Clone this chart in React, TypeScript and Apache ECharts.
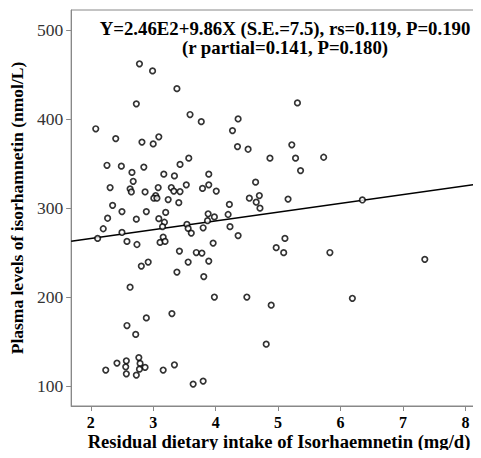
import React, { useEffect, useRef } from "react";
import * as echarts from "echarts";

const xVals = [2.78,2.99,3.38,2.73,3.59,3.77,2.08,2.40,2.82,3.00,3.09,3.57,2.26,2.49,2.85,3.43,2.66,3.17,3.34,3.89,5.31,4.36,4.27,4.35,4.52,5.22,4.87,5.28,5.73,5.36,2.68,2.31,2.63,2.65,2.87,3.08,3.04,3.01,3.06,3.29,3.33,3.43,3.53,3.79,3.89,4.01,3.24,3.41,2.35,2.50,2.89,3.20,2.27,2.73,3.09,3.18,3.15,3.88,3.98,3.87,3.54,3.56,3.61,3.80,2.20,2.50,2.11,2.58,2.74,3.11,3.16,3.19,3.96,3.42,3.69,3.78,2.92,2.81,3.56,3.89,3.38,3.81,2.63,3.98,4.64,4.54,4.70,4.65,4.71,5.16,4.22,4.20,4.23,4.36,5.11,4.97,5.09,5.83,4.50,6.19,6.35,7.35,2.89,3.30,2.58,2.72,2.77,2.42,2.57,2.79,2.56,2.87,2.78,2.24,3.16,3.34,2.57,2.73,3.64,3.80,4.89,4.81];
const yVals = [462,454,434,417,405,397,389,378,374,372,380,356,348,347,346,349,340,338,336,338,418,400,387,369,366,371,356,356,357,342,330,323,321.5,318,318,323,314,311,311,323,319,318.5,326,322,326,319,309.5,306,303,296,296,295,288.5,287.5,288,284,279,293.5,290,285.7,281.5,277,271.8,277.8,276.7,272.5,265.8,262.5,259,261.3,267.3,262.5,260.6,251.6,250,249.4,239.3,234.8,239.3,240.4,228,223,211,200,329,311,314,306.5,299.8,310,304,292.7,279,269,265.8,255.4,249.8,250,200,198.6,309,242.3,176.5,181.4,168,158,132,125.8,128.4,125.4,121.6,121,119,118,118,123.9,113.8,112.3,102.2,105.6,190.8,147];

const xTicks = [2, 3, 4, 5, 6, 7, 8];
const yTicks = [100, 200, 300, 400, 500];

const intercept = 246;
const slope = 9.86;

const titleLine1 = "Y=2.46E2+9.86X (S.E.=7.5), rs=0.119, P=0.190";
const titleLine2 = "(r partial=0.141, P=0.180)";
const xName = "Residual dietary intake of Isorhaemnetin (mg/d)";
const yName = "Plasma levels of isorhamnetin (nmol/L)";

const X_MIN = 1.686;
const X_MAX = 8.25;
const Y_MIN = 77.6;
const Y_MAX = 522.4;

const FONT = "'Liberation Serif', 'Times New Roman', serif";

export default function App() {
  const ref = useRef<HTMLDivElement>(null);
  useEffect(() => {
    if (!ref.current) return;
    const chart = echarts.init(ref.current, null, { renderer: "svg" });
    const points = xVals.map((x, i) => [x, yVals[i]]);
    const fit = [
      [X_MIN, intercept + slope * X_MIN],
      [X_MAX, intercept + slope * X_MAX],
    ];
    chart.setOption({
      animation: false,
      backgroundColor: "#fff",
      grid: {
        left: 71,
        right: 0,
        top: 10,
        bottom: 52,
        show: true,
        borderColor: "#888",
        borderWidth: 1,
      },
      xAxis: {
        type: "value",
        min: X_MIN,
        max: X_MAX,
        splitLine: { show: false },
        axisLine: { show: true, onZero: false, lineStyle: { color: "#888", width: 1 } },
        axisTick: { show: true, customValues: xTicks, length: 5, lineStyle: { color: "#888" } },
        axisLabel: {
          customValues: xTicks,
          color: "#000",
          fontFamily: FONT,
          fontWeight: "bold",
          fontSize: 16,
          margin: 8,
        },
      },
      yAxis: {
        type: "value",
        min: Y_MIN,
        max: Y_MAX,
        splitLine: { show: false },
        axisLine: { show: true, onZero: false, lineStyle: { color: "#888", width: 1 } },
        axisTick: { show: true, customValues: yTicks, length: 5, lineStyle: { color: "#888" } },
        axisLabel: {
          customValues: yTicks,
          color: "#333",
          fontFamily: FONT,
          fontSize: 17.5,
          margin: 8,
        },
        name: yName,
        nameLocation: "middle",
        nameGap: 38,
        nameTextStyle: { color: "#000", fontFamily: FONT, fontWeight: "bold", fontSize: 17.5 },
      },
      graphic: [
        {
          type: "text",
          x: 285,
          y: 28,
          style: {
            text: titleLine1,
            fontFamily: FONT,
            fontWeight: "bold",
            fontSize: 18.8,
            fill: "#000",
            textAlign: "center",
            textVerticalAlign: "middle",
          },
        },
        {
          type: "text",
          x: 285,
          y: 47,
          style: {
            text: titleLine2,
            fontFamily: FONT,
            fontWeight: "bold",
            fontSize: 18.8,
            fill: "#000",
            textAlign: "center",
            textVerticalAlign: "middle",
          },
        },
        {
          type: "text",
          x: 279,
          y: 441.5,
          style: {
            text: xName,
            fontFamily: FONT,
            fontWeight: "bold",
            fontSize: 18.6,
            fill: "#000",
            textAlign: "center",
            textVerticalAlign: "middle",
          },
        },
      ],
      series: [
        {
          type: "line",
          data: fit,
          showSymbol: false,
          symbol: "none",
          lineStyle: { color: "#000", width: 1.5 },
          z: 1,
        },
        {
          type: "scatter",
          data: points,
          symbol: "circle",
          symbolSize: 5.5,
          itemStyle: { color: "#fff", borderColor: "#000", borderWidth: 1.7 },
          z: 2,
        },
      ],
    });
    return () => chart.dispose();
  }, []);
  return <div ref={ref} style={{ width: 481, height: 458, margin: -8 }} />;
}
